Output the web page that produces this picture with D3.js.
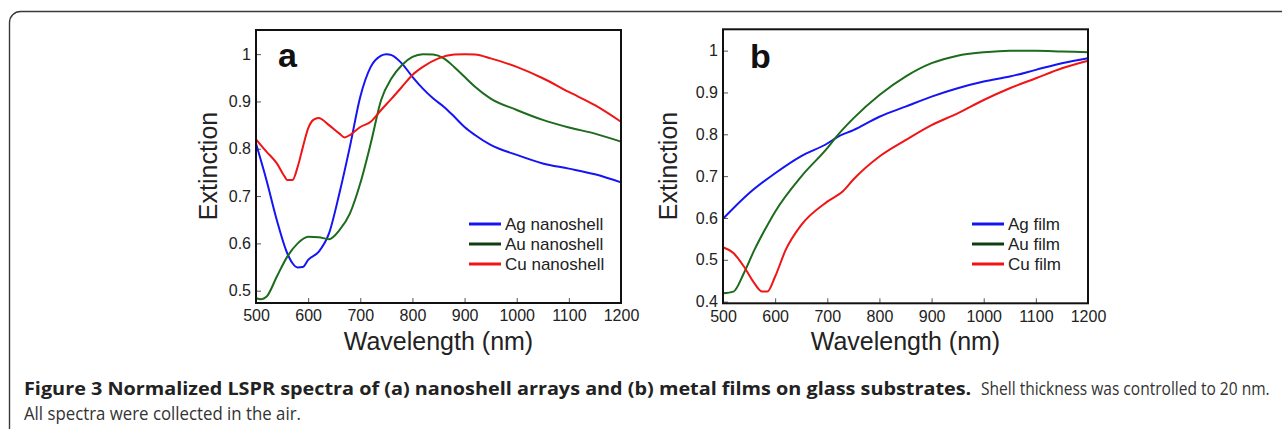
<!DOCTYPE html>
<html><head><meta charset="utf-8">
<script src="https://cdn.jsdelivr.net/npm/d3@7"></script>
<style>
html,body{margin:0;padding:0;background:#fff;}
svg{display:block;}
</style></head>
<body>
<svg id="c" width="1282" height="429"></svg>
<script>
// ---------- data ----------
const xTicks = [500,600,700,800,900,1000,1100,1200];
const yTicksA = [0.5,0.6,0.7,0.8,0.9,1];
const yTicksB = [0.4,0.5,0.6,0.7,0.8,0.9,1];

const agShellWl = [500,520,540,560,570,580,590,600,620,640,660,680,700,720,740,750,760,780,800,820,840,860,880,900,920,950,1000,1050,1100,1150,1200];
const agShellExt = [0.811,0.734,0.649,0.579,0.558,0.549,0.55,0.565,0.582,0.621,0.706,0.804,0.91,0.973,0.997,1.0,0.998,0.98,0.952,0.927,0.906,0.889,0.868,0.846,0.829,0.808,0.787,0.769,0.758,0.746,0.729];

const auShellWl = [500,510,520,540,560,580,600,620,640,660,680,700,720,740,760,780,800,820,840,860,880,900,920,950,1000,1050,1100,1150,1200];
const auShellExt = [0.484,0.482,0.487,0.53,0.572,0.6,0.614,0.613,0.609,0.628,0.663,0.727,0.811,0.903,0.949,0.977,0.994,1.0,0.999,0.991,0.973,0.952,0.931,0.906,0.882,0.861,0.845,0.832,0.815];

const cuShellWl = [500,520,540,555,560,570,580,590,600,610,620,640,660,670,680,700,720,740,760,780,800,820,850,880,900,920,950,1000,1050,1100,1150,1200];
const cuShellExt = [0.82,0.794,0.769,0.741,0.734,0.734,0.762,0.804,0.843,0.861,0.865,0.85,0.832,0.824,0.829,0.846,0.857,0.882,0.906,0.931,0.956,0.973,0.991,0.999,1.0,0.999,0.991,0.973,0.949,0.92,0.892,0.857];

const agFilmWl = [500,550,600,650,700,720,750,800,850,900,950,1000,1050,1100,1150,1200];
const agFilmExt = [0.598,0.659,0.707,0.748,0.778,0.794,0.81,0.842,0.866,0.89,0.91,0.926,0.938,0.954,0.97,0.982];

const auFilmWl = [500,520,540,560,580,600,650,700,720,750,800,850,900,950,1000,1050,1100,1150,1200];
const auFilmExt = [0.42,0.424,0.468,0.523,0.571,0.615,0.699,0.767,0.798,0.838,0.894,0.938,0.97,0.988,0.996,1.0,1.0,0.998,0.996];

const cuFilmWl = [500,520,540,560,575,585,600,620,650,700,730,750,800,850,900,950,1000,1050,1100,1150,1200];
const cuFilmExt = [0.53,0.516,0.484,0.444,0.424,0.424,0.46,0.523,0.583,0.639,0.664,0.692,0.747,0.786,0.822,0.85,0.882,0.91,0.934,0.958,0.976];

const legendA = ["Ag nanoshell","Au nanoshell","Cu nanoshell"];
const legendB = ["Ag film","Au film","Cu film"];
const captionBold = "Figure 3 Normalized LSPR spectra of (a) nanoshell arrays and (b) metal films on glass substrates.";
const captionRest = "Shell thickness was controlled to 20 nm.";
const captionLine2 = "All spectra were collected in the air.";

// ---------- styles ----------
const colCurve = ["#1414f5","#1d6b1d","#f01414"];
const colLegend = ["#1414f5","#0f3d0f","#f01414"];
const axisFont = "'Liberation Sans', Arial, sans-serif";

const svg = d3.select("#c");

// outer rounded border
svg.append("rect").attr("x",9.5).attr("y",11.5).attr("width",1300).attr("height",428)
  .attr("rx",11).attr("fill","none").attr("stroke","#3a3a3a").attr("stroke-width",1.4);

function zip(w,e){ return w.map((d,i)=>[d,e[i]]); }

function panel(opts){
  const {x0,x1,y0,y1,yDom,yTicks,series,legend,letter,legX,letterX,letterY,ylabX} = opts;
  const x = d3.scaleLinear().domain([500,1200]).range([x0,x1]);
  const y = d3.scaleLinear().domain(yDom).range([y1,y0]);
  const g = svg.append("g");

  const xa = g.append("g").attr("transform",`translate(0,${y1})`)
    .call(d3.axisBottom(x).tickValues(xTicks).tickSizeInner(-5).tickSizeOuter(0).tickPadding(7).tickFormat(d3.format("d")));
  const ya = g.append("g").attr("transform",`translate(${x0},0)`)
    .call(d3.axisLeft(y).tickValues(yTicks).tickSizeInner(-5).tickSizeOuter(0).tickPadding(5).tickFormat(d=>d===1?"1":d3.format(".1f")(d)));
  [xa,ya].forEach(a=>{
    a.select(".domain").remove();
    a.selectAll("text").attr("font-family",axisFont).attr("font-size",16).attr("fill","#222");
    a.selectAll("line").attr("stroke","#555").attr("stroke-width",1);
  });

  const line = d3.line().x(d=>x(d[0])).y(d=>y(d[1])).curve(d3.curveMonotoneX);
  series.forEach((s,i)=>{
    g.append("path").datum(s).attr("d",line).attr("fill","none")
      .attr("stroke",colCurve[i]).attr("stroke-width",2).attr("stroke-linejoin","round");
  });

  g.append("rect").attr("x",x0).attr("y",y0).attr("width",x1-x0).attr("height",y1-y0)
    .attr("fill","none").attr("stroke","#111").attr("stroke-width",2);

  g.append("text").attr("x",letterX).attr("y",letterY).text(letter)
    .attr("font-family",axisFont).attr("font-weight","bold").attr("font-size",34).attr("fill","#111");

  legend.forEach((t,i)=>{
    const ly = 224 + i*20;
    g.append("line").attr("x1",legX).attr("x2",legX+32).attr("y1",ly).attr("y2",ly)
      .attr("stroke",colLegend[i]).attr("stroke-width",3);
    g.append("text").attr("x",legX+36).attr("y",ly+6).text(t)
      .attr("font-family",axisFont).attr("font-size",17).attr("fill","#222");
  });

  g.append("text").attr("transform",`translate(${ylabX},166) rotate(-90)`).attr("text-anchor","middle")
    .attr("dy","0.35em").text("Extinction").attr("font-family",axisFont).attr("font-size",25).attr("fill","#222");
  g.append("text").attr("x",(x0+x1)/2).attr("y",350).attr("text-anchor","middle")
    .text("Wavelength (nm)").attr("font-family",axisFont).attr("font-size",25).attr("fill","#222");
}

panel({x0:256,x1:621,y0:30,y1:303,yDom:[0.474,1.051],yTicks:yTicksA,
  series:[zip(agShellWl,agShellExt),zip(auShellWl,auShellExt),zip(cuShellWl,cuShellExt)],
  legend:legendA,letter:"a",legX:469,letterX:278,letterY:67,ylabX:208});
panel({x0:723,x1:1088,y0:29.3,y1:303.3,yDom:[0.396,1.051],yTicks:yTicksB,
  series:[zip(agFilmWl,agFilmExt),zip(auFilmWl,auFilmExt),zip(cuFilmWl,cuFilmExt)],
  legend:legendB,letter:"b",legX:972,letterX:750,letterY:68,ylabX:668});

// caption: condensed by horizontal scaling to the reference widths
const capFont = "'Open Sans', 'Noto Sans', sans-serif";
function capText(str, x, y, width, bold, fill){
  const t = svg.append("text").attr("x",0).attr("y",0).text(str)
    .attr("font-family",capFont).attr("font-weight",bold?"bold":"normal")
    .attr("font-size",18).attr("fill",fill);
  const w = t.node().getComputedTextLength();
  t.attr("transform",`translate(${x},${y}) scale(${width/w},1)`);
}
capText(captionBold, 24, 395, 948, true, "#222");
capText(captionRest, 981, 395, 289, false, "#333");
capText(captionLine2, 24, 420, 277, false, "#333");
</script>
</body></html>
